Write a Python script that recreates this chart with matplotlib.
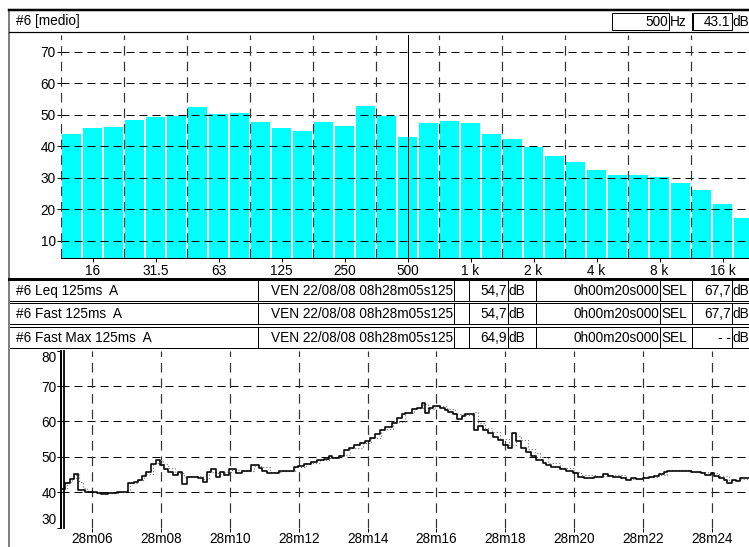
import matplotlib
matplotlib.use('Agg')
import matplotlib.pyplot as plt
from matplotlib.patches import Rectangle

W, H = 749, 547
PX = 72 / 100  # one pixel in points

plt.rcParams['font.family'] = ['Liberation Sans', 'DejaVu Sans']
plt.rcParams['font.size'] = 9.8

# 1/3 octave spectrum
bands = ['12.5', '16', '20', '25', '31.5', '40', '50', '63', '80', '100', '125',
         '160', '200', '250', '315', '400', '500', '630', '800', '1k', '1.25k',
         '1.6k', '2k', '2.5k', '3.15k', '4k', '5k', '6.3k', '8k', '10k', '12.5k',
         '16k', '20k']
band_levels = [43.9, 45.9, 46.2, 48.4, 49.4, 49.7, 52.6, 50.3, 50.5, 47.8, 45.9,
               45.0, 47.8, 46.5, 52.9, 49.7, 43.1, 47.4, 48.0, 47.4, 43.9,
               42.3, 39.8, 37.0, 35.0, 32.5, 31.0, 30.9, 30.3, 28.5, 26.2,
               21.8, 17.3]
octave_idx = [1, 4, 7, 10, 13, 16, 19, 22, 25, 28, 31]
octave_labels = ['16', '31.5', '63', '125', '250', '500', '1 k', '2 k', '4 k', '8 k', '16 k']
spec_yticks = [10, 20, 30, 40, 50, 60, 70]
cursor_band = 16

# time history (minutes after 08h28)
t_solid = [5.09, 5.20, 5.35, 5.46, 5.57, 5.78, 5.92, 6.12, 6.26, 6.45, 6.70, 7.03,
           7.21, 7.32, 7.44, 7.57, 7.71, 7.86, 7.95, 8.08, 8.19, 8.34, 8.48, 8.60,
           8.75, 9.06, 9.20, 9.33, 9.45, 9.59, 9.72, 9.83, 9.98, 10.17, 10.34, 10.60,
           10.84, 10.94, 11.08, 11.42, 11.66, 11.86, 11.97, 12.15, 12.34, 12.53, 12.73,
           12.87, 12.97, 13.16, 13.31, 13.45, 13.59, 13.79, 13.93, 14.08, 14.22, 14.37,
           14.51, 14.70, 14.85, 15.00, 15.09, 15.28, 15.43, 15.57, 15.67, 15.79, 15.91,
           16.10, 16.25, 16.34, 16.49, 16.59, 16.73, 16.83, 16.97, 17.10, 17.21, 17.36,
           17.50, 17.65, 17.79, 17.94, 18.08, 18.21, 18.32, 18.47, 18.61, 18.76, 18.90,
           19.09, 19.19, 19.33, 19.58, 19.77, 19.96, 20.11, 20.30, 20.59, 20.83, 20.98,
           21.12, 21.36, 21.51, 21.65, 21.80, 21.99, 22.18, 22.33, 22.47, 22.62, 22.71,
           22.91, 23.39, 23.68, 23.82, 23.97, 24.08, 24.21, 24.35, 24.45, 24.59, 24.72,
           24.83, 25.10]
lv_solid = [40.8, 42.5, 43.7, 45.1, 40.5, 40.1, 40.0, 39.7, 39.4, 39.7, 39.9, 42.5,
            42.9, 43.5, 44.5, 45.6, 48.0, 49.0, 47.8, 46.5, 45.8, 44.9, 45.6, 42.3,
            44.4, 44.0, 43.0, 45.6, 46.5, 44.4, 45.6, 44.8, 46.5, 45.4, 46.1, 47.8,
            46.8, 45.9, 45.4, 46.1, 45.9, 47.1, 47.5, 48.0, 48.5, 49.0, 49.5,
            50.1, 49.6, 50.3, 51.8, 52.5, 53.2, 53.9, 54.6, 55.3, 56.5, 57.7,
            58.4, 59.6, 61.0, 62.2, 62.4, 63.6, 63.9, 65.3, 62.4, 63.9, 64.3,
            63.9, 63.2, 62.6, 62.0, 60.7, 61.5, 62.0, 62.2, 57.7, 58.6, 57.7,
            56.8, 55.6, 54.7, 53.4, 52.5, 56.6, 54.4, 52.5, 51.3, 50.3, 49.2,
            48.2, 47.8, 47.1, 46.5, 46.1, 45.4, 44.4, 44.1, 44.4, 45.1, 44.6,
            44.4, 44.1, 43.3, 44.0, 43.7, 44.0, 44.4, 44.6, 45.2, 45.6, 46.1,
            46.0, 45.6, 45.4, 44.9, 45.4, 44.6, 44.1, 43.5, 42.7, 43.5, 43.2,
            44.0, 44.0]
t_dot = [5.09, 5.25, 5.40, 5.52, 5.62, 5.72, 5.85, 6.00, 6.20, 6.45, 6.75, 7.08, 7.30,
         7.50, 7.75, 7.92, 8.05, 8.20, 8.40, 8.65, 8.85, 9.20, 9.40, 9.65, 9.85, 10.05,
         10.40, 10.70, 10.90, 11.15, 11.50, 11.90, 12.20, 12.60, 12.90, 13.20, 13.50,
         13.85, 14.10, 14.40, 14.75, 15.08, 15.35, 15.62, 15.75, 15.95, 16.30, 16.55,
         16.80, 17.05, 17.20, 17.40, 17.60, 17.85, 18.12, 18.30, 18.45, 18.65, 18.85,
         19.00, 19.25, 19.60, 20.00, 20.20, 20.60, 21.00, 21.50, 22.00, 22.40, 22.70,
         23.40, 23.90, 24.20, 24.50, 24.80, 25.10]
lv_dot = [41.0, 42.8, 44.0, 45.3, 43.0, 41.2, 40.4, 40.1, 39.8, 39.8, 40.0, 42.7, 43.4,
          45.0, 48.3, 49.2, 48.0, 46.8, 45.5, 44.2, 44.6, 43.8, 45.8, 45.2, 45.6, 46.4,
          46.0, 47.5, 47.0, 45.8, 46.0, 47.0, 48.1, 49.1, 50.0, 50.6, 52.6,
          54.0, 55.4, 57.8, 59.8, 62.4, 63.8, 65.0, 63.5, 64.4, 63.6, 62.2,
          61.8, 62.6, 59.5, 58.2, 57.0, 55.0, 53.2, 56.0, 54.8, 52.3, 51.0,
          49.8, 48.2, 46.9, 45.8, 44.8, 44.6, 44.8, 43.8, 44.2, 44.9, 46.2,
          45.8, 45.4, 44.6, 43.3, 43.6, 44.0]
t_start, t_end = 5.0854, 25.0854
time_ticks = [6, 8, 10, 12, 14, 16, 18, 20, 22, 24]
time_labels = ['28m%02d' % m for m in time_ticks]
hist_yticks = [30, 40, 50, 60, 70, 80]

# info rows
row_names = ['#6 Leq 125ms  A', '#6 Fast 125ms  A', '#6 Fast Max 125ms  A']
row_dates = ['VEN 22/08/08 08h28m05s125'] * 3
row_values = ['54,7', '54,7', '64,9']
row_durations = ['0h00m20s000'] * 3
row_sel = ['67,7', '67,7', '- -']

fig = plt.figure(figsize=(W / 100, H / 100), dpi=100)


def frac(x0, y0, x1, y1):
    return [x0 / W, 1 - y1 / H, (x1 - x0) / W, (y1 - y0) / H]


# overlay for frames and text boxes, in pixel coords
ov = fig.add_axes([0, 0, 1, 1])
ov.set_xlim(0, W)
ov.set_ylim(H, 0)
ov.axis('off')


def box(x0, y0, x1, y1, lw=1):
    ov.add_patch(Rectangle((x0, y0), x1 - x0, y1 - y0, fill=False,
                           ec='black', lw=lw * PX))


ov.plot([9, 9], [10, H], color='#808080', lw=2 * PX)
ov.plot([9, W], [10, 10], color='black', lw=2.5 * PX)
ov.plot([9, W], [31.5, 31.5], color='black', lw=1.2 * PX)
ov.text(16, 21, '#6 [medio]', va='center', ha='left')
box(612, 12.5, 669, 30)
ov.plot([692, 692], [12.5, 30], color='black', lw=PX)
ov.text(668, 21.5, '500', va='center', ha='right')
ov.text(669.5, 21.5, 'Hz', va='center', ha='left')
box(692.5, 12.5, 731.5, 30)
ov.text(730.5, 21.5, '%.1f' % band_levels[cursor_band], va='center', ha='right')
ov.text(732, 21.5, 'dB', va='center', ha='left')

ov.plot([9, W], [278.5, 278.5], color='black', lw=3 * PX)
row_y = [(280, 301), (303, 323.5), (326.5, 347.5)]
for i, (y0, y1) in enumerate(row_y):
    yc = (y0 + y1) / 2 + 0.5
    box(9, y0, W, y1)
    box(258, y0, 454, y1)
    box(469, y0, 508, y1)
    box(536, y0, 660, y1)
    box(692, y0, 732, y1)
    ov.text(16, yc, row_names[i], va='center', ha='left')
    ov.text(453, yc, row_dates[i], va='center', ha='right')
    ov.text(507, yc, row_values[i], va='center', ha='right')
    ov.text(508.5, yc, 'dB', va='center', ha='left')
    ov.text(659, yc, row_durations[i], va='center', ha='right')
    ov.text(661, yc, 'SEL', va='center', ha='left')
    ov.text(731, yc, row_sel[i], va='center', ha='right')
    ov.text(732.5, yc, 'dB', va='center', ha='left')

dash = (0, (8, 5))

# spectrum
ax = fig.add_axes(frac(61, 35, W, 257.7))
ax.set_facecolor('none')
x = list(range(len(bands)))
ax.bar(x, band_levels, width=0.93, color='#00FFFF', zorder=1)
ax.set_xlim(-0.5, 32.26)
ax.set_ylim(4.7, 75.3)
for yv in spec_yticks:
    ax.axhline(yv, color='black', lw=PX, ls=dash, zorder=2)
for k in range(11):
    ax.axvline(-0.5 + 3 * k, color='#333333', lw=1.2 * PX, ls=dash, zorder=2)
ax.axvline(cursor_band, color='black', lw=PX, zorder=3)
for s in ['top', 'right', 'left']:
    ax.spines[s].set_visible(False)
ax.spines['bottom'].set_linewidth(PX)
ax.set_yticks(spec_yticks)
ax.set_xticks(octave_idx)
ax.set_xticklabels(octave_labels)
ax.tick_params(length=4 * PX, width=PX, pad=1)
ax.tick_params(axis='x', pad=2)

# time history
ax2 = fig.add_axes(frac(61, 350.7, W, 527.5))
ax2.set_facecolor('none')
ax2.step(t_dot, lv_dot, where='post', color='#808080', lw=1.2 * PX, ls=':', zorder=3)
ax2.step(t_solid, lv_solid, where='post', color='black', lw=1.6 * PX, zorder=4)
ax2.set_xlim(t_start, t_end)
ax2.set_ylim(30, 80)
for yv in [40, 50, 60, 70]:
    ax2.axhline(yv, color='black', lw=PX, ls=dash, zorder=2)
for tv in time_ticks:
    ax2.axvline(tv, color='#333333', lw=1.2 * PX, ls=dash, zorder=2)
for s in ['top', 'right', 'bottom']:
    ax2.spines[s].set_visible(False)
ax2.spines['left'].set_linewidth(2 * PX)
ax2.plot([0.0045, 0.0045], [0, 1], transform=ax2.transAxes, color='black',
         lw=1.8 * PX, clip_on=False, zorder=5)
ax2.set_yticks(hist_yticks)
ax2.set_xticks(time_ticks)
ax2.set_xticklabels(time_labels)
ax2.tick_params(length=4 * PX, width=PX, pad=0.5)
for lab in ax2.get_yticklabels():
    if lab.get_text() == '80':
        lab.set_verticalalignment('top')
    elif lab.get_text() == '30':
        lab.set_verticalalignment('bottom')

fig.savefig('out.png', dpi=100)
